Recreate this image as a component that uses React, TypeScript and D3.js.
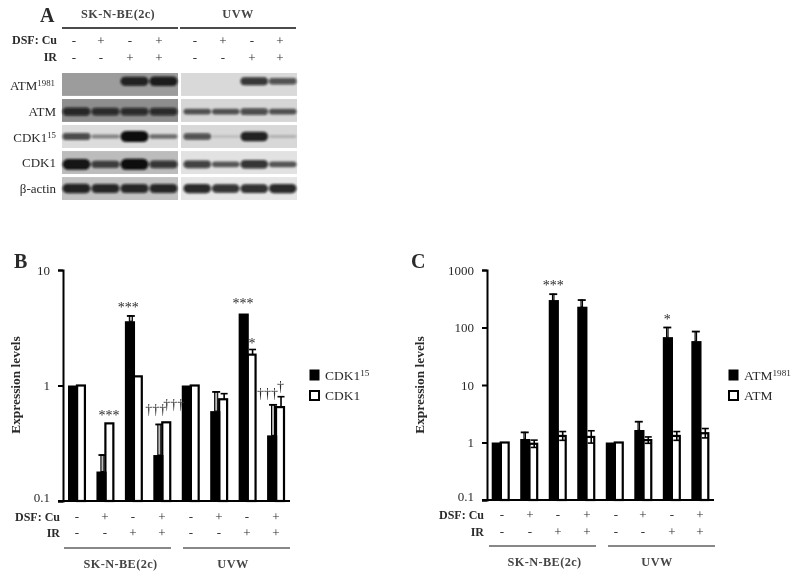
import React, { useEffect, useRef } from "react";
import * as d3 from "d3";

// lanes shared by the blot and both bar panels
const lanes = ["0", "1", "2", "3", "4", "5", "6", "7"];
const dsfCu = ["-", "+", "-", "+", "-", "+", "-", "+"];
const ir = ["-", "-", "+", "+", "-", "-", "+", "+"];

// panel A: band strength per lane, read by eye
const blotRows = ["ATM1981", "ATM", "CDK115", "CDK1", "actin"];
const blotBands = [
  [0, 0, 0.8, 0.85, 0, 0, 0.68, 0.5],
  [0.7, 0.65, 0.65, 0.65, 0.42, 0.42, 0.52, 0.42],
  [0.55, 0.22, 1, 0.28, 0.5, 0.08, 0.85, 0.1],
  [0.95, 0.6, 1, 0.65, 0.62, 0.4, 0.72, 0.42],
  [0.82, 0.78, 0.78, 0.78, 0.8, 0.72, 0.75, 0.8],
];
const blotBgLeft = ["#9c9c9c", "#8e8e8e", "#dcdcdc", "#bcbcbc", "#c2c2c2"];
const blotBgRight = ["#d9d9d9", "#d6d6d6", "#d8d8d8", "#e2e2e2", "#e6e6e6"];

// panel B
const cdk15 = [1, 0.18, 3.6, 0.25, 1, 0.6, 4.2, 0.37];
const cdk15Err = [0, 0.25, 4.0, 0.46, 0, 0.88, 0, 0.68];
const cdk1 = [1, 0.47, 1.2, 0.48, 1, 0.76, 1.85, 0.65];
const cdk1Err = [0, 0, 0, 0, 0, 0.85, 2.05, 0.8];

// panel C
const atm1981 = [1, 1.15, 300, 230, 1, 1.65, 68, 58];
const atm1981Err = [0, 1.5, 380, 300, 0, 2.3, 100, 85];
const atm = [1, 0.95, 1.3, 1.25, 1, 1.1, 1.3, 1.45];
const atmErr = [0, 1.1, 1.55, 1.6, 0, 1.25, 1.55, 1.75];

const serif = "'Liberation Serif', serif";
const textGrey = "#2a2a2a";

const Sup = ({ base, sup }: { base: string; sup?: string }) => (
  <>
    {base}
    {sup && (
      <tspan dy={-4} fontSize="0.68em">
        {sup}
      </tspan>
    )}
  </>
);

const SignRows = ({ x, y1, y2 }: { x: (i: number) => number; y1: number; y2: number }) => (
  <g fontFamily={serif} fontSize={13} fill={textGrey} textAnchor="middle">
    {dsfCu.map((s, i) => (
      <text key={"d" + i} x={x(i)} y={y1}>
        {s}
      </text>
    ))}
    {ir.map((s, i) => (
      <text key={"i" + i} x={x(i)} y={y2}>
        {s}
      </text>
    ))}
  </g>
);

const BlotPanel = () => {
  const rowY = d3.scaleBand().domain(blotRows).range([73, 200]).paddingInner(0.12);
  const leftX = d3.scaleBand().domain(lanes.slice(0, 4)).range([61, 177]);
  const rightX = d3.scaleBand().domain(lanes.slice(4)).range([182, 296]);
  const thick = d3.scaleLinear().domain([0, 1]).range([2, 11]);
  const dark = d3.scaleLinear().domain([0, 0.3, 1]).range([0, 0.55, 1]);
  const bandPos = [0.36, 0.55, 0.5, 0.58, 0.5];
  const signX = [74, 101, 130, 159, 195, 223, 252, 280];
  const labels: [string, string | undefined, number][] = [
    ["ATM", "1981", 90],
    ["ATM", undefined, 116],
    ["CDK1", "15", 142],
    ["CDK1", undefined, 167],
    ["β-actin", undefined, 193],
  ];

  return (
    <g>
      <text x={40} y={22} fontFamily={serif} fontWeight="bold" fontSize={20} fill={textGrey}>
        A
      </text>
      <g fontFamily={serif} fontWeight="bold" fontSize={12.3} fill="#444" textAnchor="middle" letterSpacing={0.4}>
        <text x={118} y={18}>SK-N-BE(2c)</text>
        <text x={238} y={18}>UVW</text>
      </g>
      <line x1={62} x2={178} y1={28} y2={28} stroke="#111" strokeWidth={1.3} />
      <line x1={180} x2={296} y1={28} y2={28} stroke="#111" strokeWidth={1.3} />
      <g fontFamily={serif} fontWeight="bold" fontSize={12} fill={textGrey} textAnchor="end">
        <text x={57} y={44}>DSF: Cu</text>
        <text x={57} y={61}>IR</text>
      </g>
      <SignRows x={(i) => signX[i]} y1={45} y2={62} />
      {blotRows.map((row, r) => (
        <g key={row}>
          <rect x={62} y={rowY(row)} width={116} height={rowY.bandwidth()} fill={blotBgLeft[r]} />
          <rect x={181} y={rowY(row)} width={116} height={rowY.bandwidth()} fill={blotBgRight[r]} />
          <g filter="url(#bandBlur)">
            {blotBands[r].map((v, i) => {
              const scale = i < 4 ? leftX : rightX;
              const h = thick(v);
              return v > 0 ? (
                <rect
                  key={i}
                  x={scale(lanes[i])! + 1.5}
                  y={rowY(row)! + rowY.bandwidth() * bandPos[r] - h / 2}
                  width={scale.bandwidth() - 1}
                  height={h}
                  rx={h / 2}
                  fill="#0a0a0a"
                  opacity={dark(v)}
                />
              ) : null;
            })}
          </g>
        </g>
      ))}
      <g fontFamily={serif} fontSize={13} fill={textGrey} textAnchor="end">
        {labels.map(([b, s, y], i) => (
          <text key={i} x={i === 0 ? 55 : 56} y={y}>
            <Sup base={b} sup={s} />
          </text>
        ))}
      </g>
    </g>
  );
};

type Note = { label: string; lane: number; series: 0 | 1; top: number; dx: number; dy: number };

type PanelProps = {
  letter: string;
  letterX: number;
  axisX: number;
  axisEnd: number;
  barRange: [number, number];
  domain: [number, number];
  yRange: [number, number];
  ticks: number[];
  names: [[string, string | undefined], [string, string | undefined]];
  filled: number[];
  filledErr: number[];
  open: number[];
  openErr: number[];
  errDx: number;
  stemW: number;
  openCross: boolean;
  notes: Note[];
  signX: (i: number) => number;
  signY: [number, number];
  lineY: number;
  groupLines: [number, number, number, number];
  groupLabelX: [number, number];
  labelDy: number;
  titleX: number;
  legendX: number;
};

const BarPanel = (p: PanelProps) => {
  const axisRef = useRef<SVGGElement>(null);
  const x = d3.scaleBand().domain(lanes).range(p.barRange).paddingInner(0.37);
  const inner = d3.scaleBand().domain(["a", "b"]).range([0, x.bandwidth()]);
  const y = d3.scaleLog().domain(p.domain).range(p.yRange);

  useEffect(() => {
    const g = d3.select(axisRef.current);
    g.selectAll("*").remove();
    g.call(
      d3.axisLeft(y).tickValues(p.ticks).tickFormat((d) => String(d)).tickSize(5).tickPadding(8) as any
    );
    g.select(".domain").attr("stroke-width", 2).attr("stroke", "#000");
    g.selectAll(".tick line").attr("stroke-width", 2).attr("stroke", "#000");
    g.selectAll(".tick text")
      .attr("font-family", serif)
      .attr("font-size", 13)
      .attr("fill", textGrey)
      .attr("dy", (d: any) => (d === p.domain[0] ? "0" : "0.32em"));
  }, []);

  const base = y(p.domain[0]);

  return (
    <g>
      <text x={p.letterX} y={268} fontFamily={serif} fontWeight="bold" fontSize={20} fill={textGrey}>
        {p.letter}
      </text>
      <text
        transform={`translate(${p.titleX},385) rotate(-90)`}
        textAnchor="middle"
        fontFamily={serif}
        fontWeight="bold"
        fontSize={13.4}
        fill={textGrey}
      >
        Expression levels
      </text>

      {lanes.map((l, i) => {
        const x0 = x(l)!;
        const w = inner.bandwidth();
        const fx = x0 + w / 2 + p.errDx;
        const ox = x0 + w * 1.5 + 0.5;
        const v = p.open[i];
        const e = p.openErr[i];
        return (
          <g key={l}>
            {p.filledErr[i] > 0 && (
              <g>
                <rect
                  x={fx - p.stemW / 2}
                  y={y(p.filledErr[i])}
                  width={p.stemW}
                  height={y(p.filled[i]) - y(p.filledErr[i])}
                  fill="#bbb"
                  stroke="#000"
                  strokeWidth={1.1}
                />
                <line x1={fx - 4} x2={fx + 4} y1={y(p.filledErr[i])} y2={y(p.filledErr[i])} stroke="#000" strokeWidth={1.8} />
              </g>
            )}
            <rect
              x={x0 + w}
              y={y(v)}
              width={w - 1}
              height={base - y(v)}
              fill="#fff"
              stroke="#000"
              strokeWidth={2.2}
            />
            <rect x={x0} y={y(p.filled[i])} width={w + 1.2} height={base - y(p.filled[i])} fill="#000" />
            {e > 0 && (
              <g stroke="#000" strokeWidth={1.6}>
                <line x1={ox} x2={ox} y1={y(e)} y2={p.openCross ? y((v * v) / e) : y(v)} />
                <line x1={ox - 3.5} x2={ox + 3.5} y1={y(e)} y2={y(e)} />
                {p.openCross && (
                  <line x1={ox - 3.5} x2={ox + 3.5} y1={y((v * v) / e)} y2={y((v * v) / e)} />
                )}
              </g>
            )}
          </g>
        );
      })}

      <g ref={axisRef} transform={`translate(${p.axisX},0)`} />
      <line x1={p.axisX - 5} x2={p.axisEnd} y1={base} y2={base} stroke="#000" strokeWidth={2} />

      <g fontFamily={serif} fontSize={14} fill={textGrey} textAnchor="middle">
        {p.notes.map((n, i) => (
          <text
            key={i}
            x={x(lanes[n.lane])! + inner.bandwidth() * (n.series + 0.5) + n.dx}
            y={y(n.top) + n.dy}
          >
            {n.label}
          </text>
        ))}
      </g>

      <g fontFamily={serif} fontWeight="bold" fontSize={12} fill={textGrey} textAnchor="end">
        <text x={p.axisX - 3} y={p.signY[0] + 4}>DSF: Cu</text>
        <text x={p.axisX - 3} y={p.signY[1] + 4}>IR</text>
      </g>
      <SignRows x={p.signX} y1={p.signY[0] + 4} y2={p.signY[1] + 4} />
      <line x1={p.groupLines[0]} x2={p.groupLines[1]} y1={p.lineY} y2={p.lineY} stroke="#111" strokeWidth={1} />
      <line x1={p.groupLines[2]} x2={p.groupLines[3]} y1={p.lineY} y2={p.lineY} stroke="#111" strokeWidth={1} />
      <g fontFamily={serif} fontWeight="bold" fontSize={12.3} fill="#444" textAnchor="middle" letterSpacing={0.4}>
        <text x={p.groupLabelX[0]} y={p.lineY + p.labelDy}>SK-N-BE(2c)</text>
        <text x={p.groupLabelX[1]} y={p.lineY + p.labelDy}>UVW</text>
      </g>

      <rect x={p.legendX} y={370} width={9} height={10} fill="#000" stroke="#000" />
      <rect x={p.legendX} y={391} width={9} height={9} fill="#fff" stroke="#000" strokeWidth={2} />
      <g fontFamily={serif} fontSize={13.5} fill={textGrey}>
        <text x={p.legendX + 15} y={380}>
          <Sup base={p.names[0][0]} sup={p.names[0][1]} />
        </text>
        <text x={p.legendX + 15} y={400}>
          <Sup base={p.names[1][0]} sup={p.names[1][1]} />
        </text>
      </g>
    </g>
  );
};

const App = () => {
  const notesB: Note[] = [
    { label: "***", lane: 1, series: 1, top: 0.47, dx: -1, dy: -3 },
    { label: "***", lane: 2, series: 0, top: 4.0, dx: -1, dy: -4 },
    { label: "†††", lane: 3, series: 0, top: 0.46, dx: -2, dy: -10 },
    { label: "†††", lane: 3, series: 1, top: 0.48, dx: 7, dy: -13 },
    { label: "***", lane: 6, series: 0, top: 4.2, dx: 0, dy: -6 },
    { label: "*", lane: 6, series: 1, top: 2.05, dx: 0, dy: -1 },
    { label: "†††", lane: 7, series: 0, top: 0.68, dx: -4, dy: -7 },
    { label: "†", lane: 7, series: 1, top: 0.8, dx: 0, dy: -6 },
  ];
  const notesC: Note[] = [
    { label: "***", lane: 2, series: 0, top: 380, dx: 0, dy: -4 },
    { label: "*", lane: 6, series: 0, top: 100, dx: 0, dy: -4 },
  ];
  const signB = [77, 105, 133, 162, 191, 219, 247, 276];
  const signC = [502, 530, 558, 587, 616, 643, 672, 700];

  return (
    <svg
      width={800}
      height={579}
      style={{ position: "absolute", left: 0, top: 0, background: "#fff" }}
    >
      <defs>
        <filter id="bandBlur" x="-20%" y="-80%" width="140%" height="260%">
          <feGaussianBlur stdDeviation="0.9" />
        </filter>
        <filter id="soft" x="0" y="0" width="100%" height="100%">
          <feGaussianBlur stdDeviation="0.3" />
        </filter>
      </defs>
      <g filter="url(#soft)">
        <rect width={800} height={579} fill="#fff" />
        <BlotPanel />
        <BarPanel
          letter="B"
          letterX={14}
          axisX={63}
          axisEnd={290}
          barRange={[68, 285]}
          domain={[0.1, 10]}
          yRange={[501, 270]}
          ticks={[0.1, 1, 10]}
          names={[["CDK1", "15"], ["CDK1", undefined]]}
          filled={cdk15}
          filledErr={cdk15Err}
          open={cdk1}
          openErr={cdk1Err}
          errDx={1.5}
          stemW={3}
          openCross={false}
          notes={notesB}
          signX={(i) => signB[i]}
          signY={[517, 533]}
          lineY={548}
          groupLines={[64, 171, 183, 290]}
          groupLabelX={[120.5, 233]}
          labelDy={20}
          titleX={20}
          legendX={310}
        />
        <BarPanel
          letter="C"
          letterX={411}
          axisX={487}
          axisEnd={714}
          barRange={[491.7, 709.3]}
          domain={[0.1, 1000]}
          yRange={[500, 270]}
          ticks={[0.1, 1, 10, 100, 1000]}
          names={[["ATM", "1981"], ["ATM", undefined]]}
          filled={atm1981}
          filledErr={atm1981Err}
          open={atm}
          openErr={atmErr}
          errDx={0}
          stemW={1.5}
          openCross={true}
          notes={notesC}
          signX={(i) => signC[i]}
          signY={[515, 532]}
          lineY={546}
          groupLines={[489, 596, 608, 715]}
          groupLabelX={[544.5, 657]}
          labelDy={20}
          titleX={424}
          legendX={729}
        />
      </g>
    </svg>
  );
};

export default App;
